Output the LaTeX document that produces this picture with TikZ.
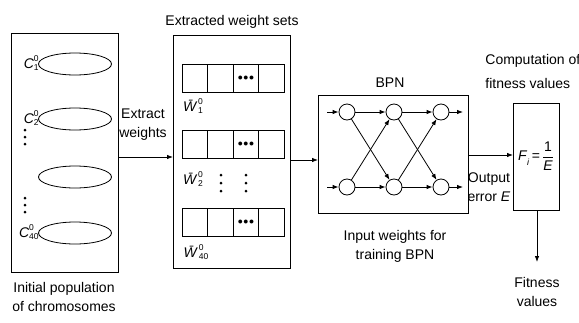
\documentclass[tikz,border=0pt]{standalone}
\usepackage{fontspec}
\setmainfont{Liberation Sans}
\usetikzlibrary{arrows.meta,shapes.geometric}
\newcommand{\supsub}[2]{\raisebox{0.3ex}{\fontsize{8.5}{9.5}\selectfont\begin{tabular}[c]{@{}l@{}}#1\\#2\end{tabular}}}
\begin{document}
\begin{tikzpicture}[x=1pt,y=-1pt,
  line width=0.8pt,
  lbl/.style={font=\fontsize{14}{19}\selectfont, align=center, inner sep=0pt},
  arr/.style={-{Latex[length=6pt,width=4.5pt]}},
  box/.style={draw},
  chrom/.style={draw, ellipse, minimum width=73pt, minimum height=22pt, inner sep=0pt},
  neuron/.style={draw, circle, minimum size=16pt, inner sep=0pt},
  cell/.style={draw, minimum width=25.5pt, minimum height=28pt, inner sep=0pt, outer sep=0pt},
  vd/.style={fill, circle, inner sep=0pt, minimum size=3pt}]
\useasboundingbox (0,0) rectangle (579,322);

% Box 1: chromosomes
\node[box, minimum width=107pt, minimum height=239pt, anchor=north west] (pop) at (11,33) {};
\node[chrom] (c1) at (75,64) {};
\node[chrom] (c2) at (75,119) {};
\node[chrom] (c3) at (75,177) {};
\node[chrom] (c4) at (75,233) {};
\node[lbl, anchor=east] (l1) at ([xshift=1pt]c1.west) {\textit{C}\supsub{0}{1}};
\node[lbl, anchor=east] (l2) at ([xshift=1pt]c2.west) {\textit{C}\supsub{0}{2}};
\node[lbl, anchor=east] (l4) at ([xshift=1pt]c4.west) {\textit{C}\supsub{0}{40}};
\foreach \y [count=\i] in {130,137,144} {\node[vd] (da\i) at (25,\y) {};}
\foreach \y [count=\i] in {198,205,212} {\node[vd] (db\i) at (25,\y) {};}
\node[lbl] (poptxt) at (64,297) {Initial population\\of chromosomes};

% Box 2: weights
\node[box, minimum width=117pt, minimum height=233pt, anchor=north west] (ws) at (173,35) {};
\node[lbl] (wstxt) at (232,22) {Extracted weight sets};
\foreach \r/\y in {1/78,2/144.5,3/222.5} {
  \node[cell] (r\r a) at (195,\y) {};
  \node[cell, anchor=west] (r\r b) at (r\r a.east) {};
  \node[cell, anchor=west] (r\r c) at (r\r b.east) {$\bullet\!\bullet\!\bullet$};
  \node[cell, anchor=west] (r\r d) at (r\r c.east) {};
}
\node[lbl] (w1) at (193,107) {\textit{\=W}\supsub{0}{1}};
\node[lbl] (w2) at (193,180) {\textit{\=W}\supsub{0}{2}};
\node[lbl] (w3) at (196,253) {\textit{\=W}\supsub{0}{40}};
\foreach \y [count=\i] in {175,183,191} {
  \node[vd] (dc\i) at (221,\y) {};
  \node[vd] (dd\i) at (246,\y) {};
}
\node[lbl] (ext) at (143,125) {Extract\\weights};
\draw[arr] (pop.east |- 0,157) coordinate (p1) -- (ws.west |- p1);

% BPN
\node[box, minimum width=150pt, minimum height=118pt, anchor=north west] (bpn) at (318,95) {};
\node[lbl] (bpntxt) at (390,83) {BPN};
\node[neuron] (a1) at (347,112) {};
\node[neuron] (a2) at (347,187) {};
\node[neuron] (b1) at (394,112) {};
\node[neuron] (b2) at (394,187) {};
\node[neuron] (c1n) at (441,112) {};
\node[neuron] (c2n) at (441,187) {};
\coordinate (i1) at (327,112);
\coordinate (i2) at (327,187);
\coordinate (o1) at (463,112);
\coordinate (o2) at (463,187);
\draw[arr] (i1) -- (a1);
\draw[arr] (i2) -- (a2);
\foreach \s in {a1,a2} \foreach \t in {b1,b2} \draw[arr] (\s) -- (\t);
\foreach \s in {b1,b2} \foreach \t in {c1n,c2n} \draw[arr] (\s) -- (\t);
\draw[arr] (c1n) -- (o1);
\draw[arr] (c2n) -- (o2);
\node[lbl] (bpnin) at (395,246) {Input weights for\\training BPN};
\draw[arr] (ws.east |- 0,160) coordinate (p2) -- (bpn.west |- p2);

% Fitness box
\node[box, minimum width=46pt, minimum height=107pt, anchor=north west] (fb) at (513,103) {};
\node[lbl] (ftxt) at (536,156) {\textit{F}\raisebox{-0.7ex}{\fontsize{9}{9}\selectfont\textit{i}}\,=\,$\displaystyle\frac{\mbox{1}}{\mbox{\itshape E}}$};
\node[lbl, anchor=west] (comp) at (485,61) {Computation of};
\node[lbl, anchor=west] (comp2) at (485,83) {fitness values};
\draw[arr] (bpn.east |- 0,155) coordinate (p3) -- (fb.west |- p3);
\node[lbl] (outerr) at (489,187) {Output\\error \textit{E}};
\coordinate (fe) at (537,262);
\draw[arr] (fb.south -| fe) -- (fe);
\node[lbl] (fv) at (537,292) {Fitness\\values};
\end{tikzpicture}
\end{document}
